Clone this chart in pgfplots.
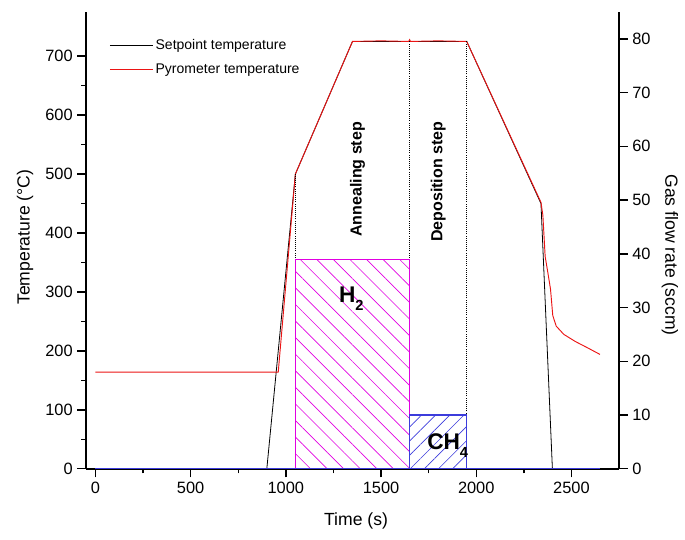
\documentclass[border=0pt]{standalone}
\usepackage{fontspec}
\setmainfont{Liberation Sans}
\usepackage{pgfplots}
\pgfplotsset{compat=1.18}
\usetikzlibrary{patterns.meta}
\definecolor{gasblue}{RGB}{60,60,220}
\definecolor{h2mag}{RGB}{225,0,225}
\definecolor{pyrored}{RGB}{235,20,20}

\begin{document}
\begin{tikzpicture}
\pgfplotsset{
  every axis/.append style={
    scale only axis, width=400pt, height=342.75pt,
    xmin=-50, xmax=2750, ymin=0,
    tick align=outside, major tick length=6.4pt, minor tick length=3.4pt,
    axis line style={line width=1.5pt},
    every tick/.style={line width=1.1pt, black},
    /pgf/number format/assume math mode=true,
    /pgf/number format/1000 sep={},
    tick label style={font=\fontsize{12.3}{14}\selectfont},
    label style={font=\fontsize{13.2}{15}\selectfont},
  }
}
% temperature axis (left)
\begin{axis}[
  axis x line*=bottom, axis y line*=left, ymax=775,
  xtick={0,500,...,2500}, minor x tick num=1,
  ytick={0,100,...,700}, minor y tick num=1,
  xlabel={Time (s)}, ylabel={Temperature (°C)},
  xlabel style={at={(axis description cs:0.5066,-0.1138)}, anchor=center},
  ylabel style={at={(axis description cs:-0.1144,0.507)}, anchor=center},
  legend style={at={(axis description cs:0.036,0.952)}, anchor=north west,
    draw=none, fill=none, font=\fontsize{10.5}{12}\selectfont, row sep=5pt},
  legend cell align=left,
  legend image code/.code={\draw[#1] (0pt,0pt) -- (32pt,0pt);},
]
\addplot[black, line width=0.6pt] coordinates {
  (0,0) (900,0) (1050,500) (1350,725) (1950,725) (2340,450) (2400,0) (2650,0)};
\addlegendentry{Setpoint temperature}
\addplot[pyrored, line width=0.7pt] coordinates {
  (0,164) (960,164) (1050,500) (1350,725) (1500,726) (1645,725) (1650,728)
  (1655,725) (1800,726) (1950,725) (2340,452) (2350,430) (2362,360) (2375,335)
  (2390,305) (2402,260) (2420,242) (2460,228) (2520,216) (2580,206) (2650,194)};
\addlegendentry{Pyrometer temperature}
\addplot[black, densely dotted, line width=0.6pt, forget plot] coordinates {(1050,0) (1050,500)};
\addplot[black, densely dotted, line width=0.6pt, forget plot] coordinates {(1650,0) (1650,725)};
\addplot[black, densely dotted, line width=0.6pt, forget plot] coordinates {(1950,0) (1950,725)};
\node[rotate=90, font=\bfseries\fontsize{12}{14}\selectfont] at (axis cs:1376,491) {Annealing step};
\node[rotate=90, font=\bfseries\fontsize{12}{14}\selectfont] at (axis cs:1801,487) {Deposition step};
\end{axis}
% gas flow axis (right)
\begin{axis}[
  axis x line=none, axis y line*=right, ymax=85,
  ytick={0,10,...,80},
  ylabel={Gas flow rate (sccm)},
  ylabel style={at={(axis description cs:1.0957,0.468)}, anchor=center, rotate=180},
]
\addplot[draw=h2mag, line width=0.8pt,
  pattern={Lines[angle=-45,distance=8.8pt,line width=0.5pt]}, pattern color=h2mag]
  coordinates {(1050,0) (1050,39) (1650,39) (1650,0) (1050,0)};
\addplot[draw=gasblue, line width=0.8pt,
  pattern={Lines[angle=45,distance=7.5pt,line width=0.5pt]}, pattern color=gasblue]
  coordinates {(1650,0) (1650,10) (1950,10) (1950,0) (1650,0)};
\addplot[gasblue, line width=1.2pt] coordinates {(0,0) (2650,0)};
\node[anchor=base west, font=\bfseries\fontsize{17}{18}\selectfont]
  at (axis cs:1255,31.0) {H\raisebox{-6pt}{\fontsize{11}{12}\selectfont 2}};
\node[anchor=base west, font=\bfseries\fontsize{17}{18}\selectfont]
  at (axis cs:1718,3.57) {CH\raisebox{-6pt}{\fontsize{11}{12}\selectfont 4}};
\coordinate (bb1) at (rel axis cs:0,0);
\coordinate (bb2) at (rel axis cs:1,1);
\end{axis}
\path ([shift={(-64.5pt,-53.25pt)}]bb1) rectangle ([shift={(49.5pt,9pt)}]bb2);
\end{tikzpicture}
\end{document}
